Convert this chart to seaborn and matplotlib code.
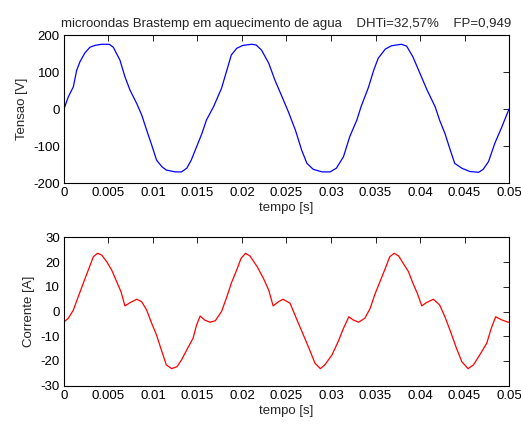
import numpy as np
import pandas as pd
import seaborn as sns
import matplotlib
matplotlib.use("Agg")
import matplotlib.pyplot as plt
from matplotlib.ticker import MultipleLocator, FuncFormatter

# tensao
t_v = [0.0, 0.00049, 0.00105, 0.00143, 0.0018, 0.00236, 0.00292, 0.00348, 0.00424, 0.00509,
       0.00554, 0.00629, 0.00685, 0.00742, 0.00817, 0.00873, 0.00929, 0.00985, 0.0104, 0.011,
       0.0115, 0.0125, 0.0132, 0.0138, 0.0143, 0.0149, 0.0155, 0.016, 0.0168, 0.0177,
       0.0183, 0.0188, 0.0194, 0.0201, 0.0211, 0.0216, 0.0222, 0.023, 0.0237, 0.0245,
       0.0252, 0.026, 0.0267, 0.0273, 0.028, 0.029, 0.0299, 0.0306, 0.0314, 0.0321,
       0.0329, 0.0334, 0.0342, 0.0348, 0.0353, 0.0361, 0.0368, 0.0379, 0.0385, 0.0392,
       0.04, 0.0408, 0.0417, 0.0422, 0.0428, 0.0434, 0.0439, 0.0447, 0.0456, 0.0466,
       0.0471, 0.0477, 0.0484, 0.0492, 0.05]
tensao = [0, 33, 60, 105, 128, 152, 167, 172, 175, 175,
          167, 132, 87, 51, 15, -16, -57, -97, -138, -156,
          -165, -170, -170, -160, -138, -102, -66, -30, 6, 56,
          105, 146, 164, 172, 175, 173, 159, 124, 78, 33,
          -7, -57, -111, -147, -163, -170, -170, -160, -129, -75,
          -30, 8, 58, 105, 137, 162, 171, 175, 170, 141,
          96, 51, 6, -30, -66, -111, -147, -160, -169, -171,
          -163, -142, -93, -48, 0]

# corrente
t_i = [0.0, 0.00049, 0.00105, 0.0016, 0.00217, 0.00273, 0.0033, 0.00378, 0.00424, 0.0048,
       0.00536, 0.00592, 0.0064, 0.00685, 0.00742, 0.00817, 0.00873, 0.00929, 0.00985, 0.0104,
       0.011, 0.0115, 0.0121, 0.0127, 0.0132, 0.0138, 0.0145, 0.0149, 0.0153, 0.0158,
       0.0164, 0.017, 0.0177, 0.0183, 0.0188, 0.0194, 0.0199, 0.0204, 0.0209, 0.0217,
       0.0224, 0.023, 0.0235, 0.0241, 0.0246, 0.0254, 0.0261, 0.0269, 0.0276, 0.0282,
       0.0288, 0.0293, 0.0301, 0.0308, 0.0314, 0.032, 0.0325, 0.0331, 0.0338, 0.0344,
       0.0349, 0.0355, 0.0361, 0.0366, 0.0371, 0.0376, 0.0381, 0.0387, 0.0392, 0.0397,
       0.0402, 0.0407, 0.0415, 0.0422, 0.0428, 0.0435, 0.0441, 0.0447, 0.0454, 0.046,
       0.0467, 0.0475, 0.048, 0.0485, 0.0492, 0.0499, 0.05]
corrente = [-4.2, -2.7, 0.6, 6.0, 11.5, 16.8, 22.2, 23.6, 22.9, 20.2,
            16.8, 12.1, 8.1, 2.3, 3.6, 5.0, 4.0, 0.6, -4.7, -9.5,
            -16.2, -21.6, -23.1, -22.3, -19.6, -15.5, -10.8, -5.4, -1.8, -3.4,
            -4.3, -3.7, 0.0, 6.0, 11.5, 16.8, 21.6, 23.6, 22.5, 18.2,
            13.5, 8.7, 2.3, 4.0, 5.0, 3.4, -2.7, -9.5, -15.5, -20.9,
            -23.1, -21.6, -17.6, -12.2, -6.8, -2.1, -3.4, -4.3, -2.7, 1.3,
            6.7, 12.1, 17.5, 22.2, 23.6, 22.5, 19.6, 16.2, 11.5, 7.4,
            2.3, 3.6, 5.0, 2.7, -2.1, -8.8, -14.9, -20.3, -23.1, -21.6,
            -17.6, -12.8, -6.8, -2.1, -3.4, -4.3, -4.3]

titulo = "microondas Brastemp em aquecimento de agua    DHTi=32,57%    FP=0,949"

FS = 9.5


def style_axis(ax):
    ax.set_xlim(0, 0.05)
    ax.xaxis.set_major_locator(MultipleLocator(0.005))
    ax.xaxis.set_major_formatter(FuncFormatter(lambda v, p: "%g" % round(v, 4)))
    ax.tick_params(direction="in", length=4, width=0.6, top=True, right=True,
                   labelsize=FS, colors="black", pad=3)
    for s in ax.spines.values():
        s.set_linewidth(0.8)
        s.set_color("black")
        s.set_visible(True)
    ax.set_xlabel("tempo [s]", fontsize=FS, labelpad=2)


def main():
    sns.set_style("white")
    plt.rcParams['font.family'] = ['Liberation Sans', 'DejaVu Sans']
    plt.rcParams['axes.unicode_minus'] = False

    df_v = pd.DataFrame({"t": t_v, "v": tensao})
    df_i = pd.DataFrame({"t": t_i, "i": corrente})

    fig = plt.figure(figsize=(5.21, 4.25), dpi=100)
    ax1 = fig.add_axes([0.1228, 0.5694, 0.8542, 0.3482])
    ax2 = fig.add_axes([0.1228, 0.0925, 0.8542, 0.3487])

    sns.lineplot(ax=ax1, data=df_v, x="t", y="v", color="#0000ff", linewidth=0.9)
    style_axis(ax1)
    ax1.set_ylim(-200, 200)
    ax1.yaxis.set_major_locator(MultipleLocator(100))
    ax1.set_ylabel("Tensao [V]", fontsize=FS)
    ax1.set_title(titulo, fontsize=FS, pad=6)

    sns.lineplot(ax=ax2, data=df_i, x="t", y="i", color="#ff0000", linewidth=0.9)
    style_axis(ax2)
    ax2.set_ylim(-30, 30)
    ax2.yaxis.set_major_locator(MultipleLocator(10))
    ax2.set_ylabel("Corrente [A]", fontsize=FS)

    fig.savefig("out.png", dpi=100)


if __name__ == "__main__":
    main()
